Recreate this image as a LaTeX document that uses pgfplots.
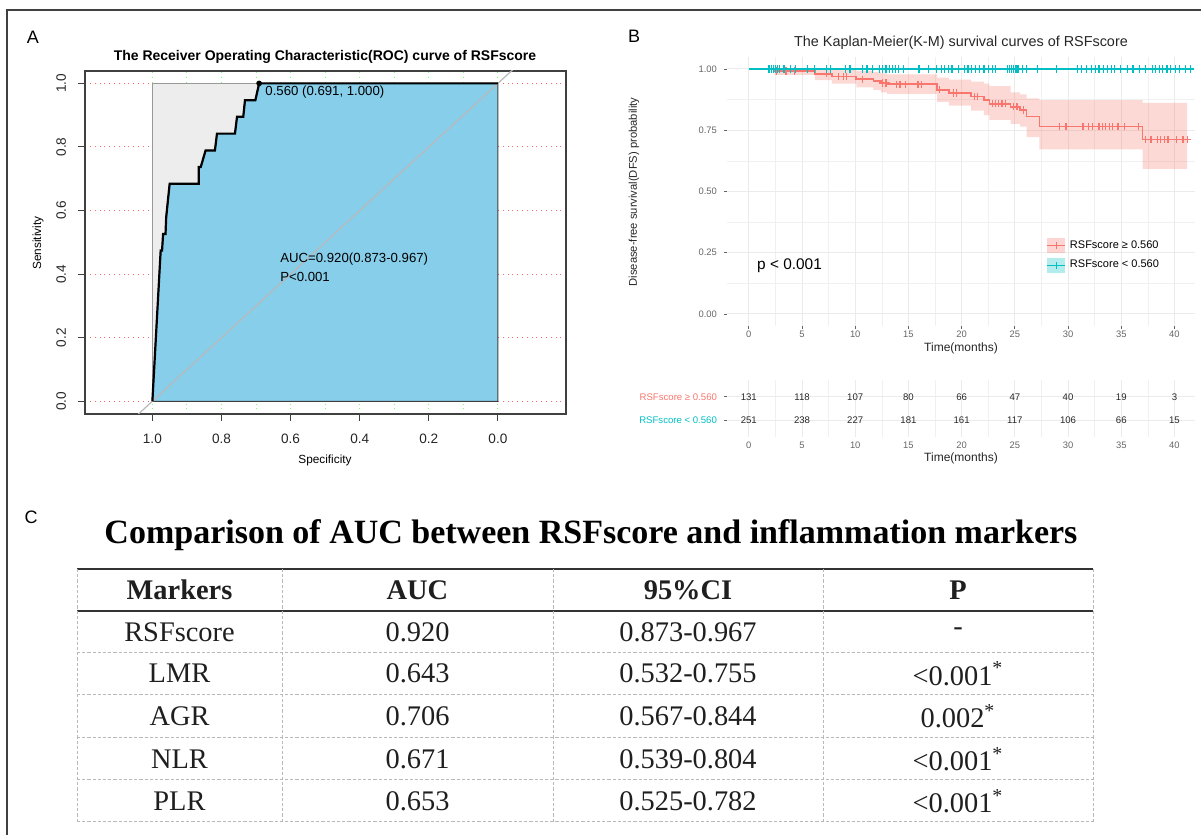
\documentclass[border=0pt]{standalone}
\usepackage{fontspec}
\setmainfont{Liberation Sans}
\newfontfamily\tnr{Liberation Serif}
\usepackage{pgfplots}
\pgfplotsset{compat=1.18, /pgf/number format/assume math mode=true}
\definecolor{kmred}{HTML}{F8766D}
\definecolor{kmcyan}{HTML}{00BFC4}
\definecolor{skyb}{HTML}{87CEEB}
\definecolor{gridg}{HTML}{EBEBEB}
\definecolor{maxg}{HTML}{EDEDED}
\newcommand{\fsz}[1]{\fontsize{#1}{#1}\selectfont}
\begin{document}
\begin{tikzpicture}
\useasboundingbox (0,0) rectangle (600.5pt,417.5pt);
%================ ROC =================
\begin{axis}[
  at={(42.5pt,210.5pt)}, anchor=south west, scale only axis,
  width=240.5pt, height=171.5pt,
  x dir=reverse, xmin=-0.197, xmax=1.195, ymin=-0.040, ymax=1.039,
  xtick={0,0.2,0.4,0.6,0.8,1}, xticklabels={0.0,0.2,0.4,0.6,0.8,1.0},
  minor xtick={0.1,0.3,0.5,0.7,0.9},
  ytick={0,0.2,0.4,0.6,0.8,1}, yticklabels={0.0,0.2,0.4,0.6,0.8,1.0},
  xmajorgrids, xminorgrids, ymajorgrids,
  x grid style={dotted, color=green!55, line width=0.5pt},
  y grid style={dotted, color=red!60, line width=0.5pt},
  xtick pos=left, ytick pos=left,
  tick align=outside, major tick length=3.5pt, minor tick length=0pt,
  tick style={black!75, line width=0.5pt},
  axis line style={black!75, line width=0.7pt},
  tick label style={font=\fsz{6.8}, black!85},
  xticklabel style={yshift=-3pt},
  yticklabel shift=2.5pt,
  yticklabel style={rotate=90, anchor=south},
]
\addplot[fill=maxg, draw=gray!80, line width=0.5pt] coordinates {(1,0) (1,1) (0,1) (0,0)} -- cycle;
\addplot[fill=skyb, draw=black!75, line width=0.5pt] coordinates {
(1.000,0.000) (0.976,0.474) (0.972,0.474) (0.969,0.526) (0.962,0.526)
(0.960,0.579) (0.955,0.632) (0.950,0.684) (0.866,0.684) (0.866,0.737)
(0.860,0.737) (0.846,0.789) (0.819,0.789) (0.813,0.842) (0.761,0.842)
(0.755,0.895) (0.737,0.895) (0.732,0.947) (0.702,0.947) (0.691,1.000)
(0.000,1.000) (0.000,0.000)} -- cycle;
\addplot[gray!55, line width=0.6pt] coordinates {(1.3,-0.3) (-0.3,1.3)};
\addplot[black, line width=1.1pt] coordinates {
(1.000,0.000) (0.976,0.474) (0.972,0.474) (0.969,0.526) (0.962,0.526)
(0.960,0.579) (0.955,0.632) (0.950,0.684) (0.866,0.684) (0.866,0.737)
(0.860,0.737) (0.846,0.789) (0.819,0.789) (0.813,0.842) (0.761,0.842)
(0.755,0.895) (0.737,0.895) (0.732,0.947) (0.702,0.947) (0.691,1.000)
(0.000,1.000)};
\addplot[only marks, mark=*, mark size=1.2pt, black] coordinates {(0.691,1.000)};
\node[anchor=west, font=\fsz{6.6}, inner sep=0pt] at (axis cs:0.674,0.974) {0.560 (0.691, 1.000)};
\node[anchor=west, font=\fsz{6.6}, inner sep=0pt] at (axis cs:0.631,0.447) {AUC=0.920(0.873-0.967)};
\node[anchor=west, font=\fsz{6.6}, inner sep=0pt] at (axis cs:0.631,0.391) {P<0.001};
\end{axis}
%================ KM =================
\begin{axis}[
  at={(363.5pt,254.375pt)}, anchor=south west, scale only axis,
  width=234pt, height=134.75pt,
  xmin=-2.05, xmax=41.93, ymin=-0.05, ymax=1.05,
  xtick={0,5,...,40}, minor xtick={2.5,7.5,12.5,17.5,22.5,27.5,32.5,37.5},
  ytick={0,0.25,0.5,0.75,1}, yticklabels={0.00,0.25,0.50,0.75,1.00},
  minor ytick={0.125,0.375,0.625,0.875},
  grid=both, major grid style={gridg, line width=0.5pt},
  minor grid style={gridg!75, line width=0.3pt},
  axis x line*=bottom, axis y line*=left, axis line style={draw=none},
  tick align=outside, major tick length=1.5pt, minor tick length=0pt,
  tick style={black!60, line width=0.4pt},
  tick label style={font=\fsz{4.7}, black!60},
  xticklabel style={yshift=2.5pt},
  legend style={at={(0.682,0.335)}, anchor=north west, draw=none, fill=none,
    font=\fsz{5.5}, inner sep=0pt, row sep=0.6pt, cells={anchor=west}},
]
\addlegendimage{legend image code/.code={
  \fill[kmred, draw=none, fill opacity=0.3] (0pt,-3.7pt) rectangle (9pt,3.7pt);
  \draw[kmred, line width=0.7pt] (0pt,0pt) -- (9pt,0pt);
  \draw[kmred, line width=0.7pt] (4.5pt,-1.8pt) -- (4.5pt,1.8pt);}}
\addlegendentry{RSFscore ≥ 0.560}
\addlegendimage{legend image code/.code={
  \fill[kmcyan, draw=none, fill opacity=0.3] (0pt,-3.7pt) rectangle (9pt,3.7pt);
  \draw[kmcyan, line width=0.7pt] (0pt,0pt) -- (9pt,0pt);
  \draw[kmcyan, line width=0.7pt] (4.5pt,-1.8pt) -- (4.5pt,1.8pt);}}
\addlegendentry{RSFscore < 0.560}
% CI band
\addplot[fill=kmred, fill opacity=0.28, draw=none, forget plot] coordinates {
(2.4,1.0) (7.8,1.0) (7.8,0.998) (10.1,0.998) (10.1,0.992) (11.7,0.992) (11.7,0.987)
(12.4,0.987) (12.4,0.982) (13.0,0.982) (13.0,0.978) (17.7,0.978) (17.7,0.965) (18.8,0.965)
(18.8,0.957) (20.9,0.957) (20.9,0.948) (22.1,0.948) (22.1,0.940) (22.6,0.940) (22.6,0.930)
(24.6,0.930) (24.6,0.905) (25.5,0.905) (25.5,0.896) (26.1,0.896) (26.1,0.880) (27.3,0.880)
(27.3,0.873) (37.0,0.873) (37.0,0.862) (41.2,0.862)
(41.2,0.592) (37.0,0.592) (37.0,0.672) (27.3,0.672) (27.3,0.722) (26.1,0.722) (26.1,0.765)
(25.5,0.765) (25.5,0.776) (24.6,0.776) (24.6,0.792) (22.6,0.792) (22.6,0.812) (22.1,0.812)
(22.1,0.830) (20.9,0.830) (20.9,0.850) (18.8,0.850) (18.8,0.866) (17.7,0.866) (17.7,0.898)
(13.0,0.898) (13.0,0.905) (12.4,0.905) (12.4,0.915) (11.7,0.915) (11.7,0.925) (10.1,0.925)
(10.1,0.940) (7.8,0.940) (7.8,0.955) (6.2,0.955) (6.2,0.976) (2.4,0.976)} -- cycle;
% red curve
\addplot[kmred, line width=0.8pt, const plot, forget plot] coordinates {
(0,1) (2.4,0.992) (6.2,0.980) (7.8,0.969) (10.1,0.958) (11.7,0.950) (12.4,0.943) (13.0,0.938)
(17.7,0.915) (18.8,0.902) (20.9,0.888) (22.1,0.874) (22.6,0.858) (24.6,0.846) (25.5,0.833)
(26.1,0.806) (27.3,0.766) (37.0,0.713) (41.2,0.713)};
\addplot[only marks, mark=+, mark size=1.8pt, kmred, mark options={line width=0.6pt}, forget plot] coordinates {
(2.6,0.992)(3.5,0.992)(4.3,0.992)(7.3,0.980)(8.4,0.969)(8.9,0.969)(9.2,0.969)(10.7,0.958)
(12.6,0.943)(12.9,0.943)(13.9,0.938)(14.2,0.938)(14.7,0.938)(15.9,0.938)(16.2,0.938)(17.9,0.915)
(19.2,0.902)(19.5,0.902)(21.2,0.888)(21.5,0.888)(22.9,0.858)(23.2,0.858)(23.5,0.858)(23.8,0.858)
(24.1,0.858)(24.9,0.846)(25.2,0.846)(25.8,0.833)(29.2,0.766)(29.8,0.766)(31.4,0.766)(31.9,0.766)
(32.3,0.766)(32.9,0.766)(33.2,0.766)(33.5,0.766)(33.9,0.766)(34.2,0.766)(34.7,0.766)(35.3,0.766)
(36.6,0.766)(37.3,0.713)(37.8,0.713)(38.4,0.713)(38.7,0.713)(39.1,0.713)(39.4,0.713)(40.2,0.713)
(40.8,0.713)(41.2,0.713)};
% cyan curve
\addplot[kmcyan, line width=0.8pt, forget plot] coordinates {(0,1) (41.6,1)};
\addplot[only marks, mark=+, mark size=1.8pt, kmcyan, mark options={line width=0.6pt}, forget plot] coordinates {
(1.9,1)(2.1,1)(2.3,1)(2.5,1)(2.7,1)(2.9,1)(3.3,1)(3.9,1)(4.4,1)(5.5,1)(6.2,1)(7.3,1)(7.7,1)
(9.1,1)(9.5,1)(10.7,1)(11.1,1)(11.6,1)(12.3,1)(12.6,1)(12.9,1)(13.2,1)(13.5,1)(13.8,1)(14.1,1)
(14.5,1)(16.0,1)(16.9,1)(17.6,1)(18.1,1)(18.4,1)(18.8,1)(19.1,1)(19.7,1)(20.3,1)(20.6,1)(20.9,1)
(21.3,1)(21.7,1)(22.1,1)(22.5,1)(22.9,1)(23.2,1)(24.3,1)(24.5,1)(24.7,1)(24.9,1)(25.1,1)(25.3,1)
(25.7,1)(26.1,1)(27.1,1)(28.9,1)(30.9,1)(31.3,1)(31.7,1)(32.2,1)(32.6,1)(32.9,1)(33.3,1)(33.7,1)
(34.1,1)(34.4,1)(34.9,1)(35.6,1)(36.1,1)(36.7,1)(37.3,1)(37.9,1)(38.2,1)(38.6,1)(38.9,1)(39.3,1)
(39.6,1)(40.1,1)(40.5,1)(41.0,1)(41.5,1)};
\node[anchor=west, font=\fsz{7.7}, inner sep=0pt] at (axis cs:0.75,0.196) {p < 0.001};
\end{axis}
%================ Risk table =================
\begin{axis}[
  at={(363.5pt,199pt)}, anchor=south west, scale only axis,
  width=234pt, height=28.5pt,
  xmin=-2.05, xmax=41.93, ymin=0.27, ymax=2.72,
  xtick={0,5,...,40}, minor xtick={2.5,7.5,12.5,17.5,22.5,27.5,32.5,37.5},
  ytick={1,2}, yticklabels={{\color{kmcyan}RSFscore < 0.560},{\color{kmred}RSFscore ≥ 0.560}},
  xmajorgrids, xminorgrids, ymajorgrids,
  major grid style={gridg, line width=0.5pt},
  minor grid style={gridg!75, line width=0.3pt},
  axis x line*=bottom, axis y line*=left, axis line style={draw=none},
  tick align=outside, major tick length=1.5pt, minor tick length=0pt,
  tick style={black!60, line width=0.4pt},
  xtick style={draw=none},
  tick label style={font=\fsz{4.7}, black!60},
  xticklabel style={yshift=2.5pt},
  yticklabel style={font=\fsz{4.8}},
]
\addplot[only marks, mark=*, mark size=0.1pt, mark options={opacity=0},
  nodes near coords, point meta=explicit symbolic, nodes near coords align={center},
  every node near coord/.append style={font=\fsz{4.8}, text=black!85, anchor=center, opacity=1}] coordinates {
(0,2)[131] (5,2)[118] (10,2)[107] (15,2)[80] (20,2)[66] (25,2)[47] (30,2)[40] (35,2)[19] (40,2)[3]};
\addplot[only marks, mark=*, mark size=0.1pt, mark options={opacity=0},
  nodes near coords, point meta=explicit symbolic, nodes near coords align={center},
  every node near coord/.append style={font=\fsz{4.8}, text=black!85, anchor=center, opacity=1}] coordinates {
(0,1)[251] (5,1)[238] (10,1)[227] (15,1)[181] (20,1)[161] (25,1)[117] (30,1)[106] (35,1)[66] (40,1)[15]};
\end{axis}
%================ texts, frame, table (pixel coordinates) =================
\begin{scope}[x=0.5pt, y=-0.5pt, yshift=417.5pt]
\draw[black!75, line width=1.1pt] (7,840) -- (7,10) -- (1205,10);
\node[font=\fsz{9}] at (33,37) {A};
\node[font=\fsz{9}] at (634,36) {B};
\node[font=\fsz{9}] at (31,517) {C};
\node[font=\bfseries\fsz{7}] at (325,57) {The Receiver Operating Characteristic(ROC) curve of RSFscore};
\node[font=\fsz{5.9}, rotate=90] at (38,243) {Sensitivity};
\node[font=\fsz{5.9}] at (325,460) {Specificity};
\node[font=\fsz{7.2}, black!85] at (961,43) {The Kaplan-Meier(K-M) survival curves of RSFscore};
\node[font=\fsz{5.6}, rotate=90, black!85] at (634,192) {Disease-free survival(DFS) probability};
\node[font=\fsz{6}, black!85] at (961,348) {Time(months)};
\node[font=\fsz{6}, black!85] at (961,458) {Time(months)};
% table C
\node[font=\tnr\bfseries\fsz{17}] at (591,535) {Comparison of AUC between RSFscore and inflammation markers};
\draw[black!80, line width=1.4pt] (77,569) -- (1093,569);
\draw[black!80, line width=1.4pt] (77,611) -- (1093,611);
\begin{scope}[gray!55, line width=0.5pt, dash pattern=on 1.6pt off 1pt]
\foreach \yy in {652.5,694.5,737.5,780,822} \draw (77,\yy) -- (1093,\yy);
\foreach \xx in {77,282,553,823,1093} \draw (\xx,569) -- (\xx,822);
\end{scope}
\begin{scope}[every node/.style={font=\tnr\fsz{14.2}, text=black!88}]
\node[font=\tnr\bfseries\fsz{14.2}] at (179.5,590) {Markers};
\node[font=\tnr\bfseries\fsz{14.2}] at (417.5,590) {AUC};
\node[font=\tnr\bfseries\fsz{14.2}] at (688,590) {95\%CI};
\node[font=\tnr\bfseries\fsz{14.2}] at (958,590) {P};
\node at (179.5,632) {RSFscore}; \node at (417.5,632) {0.920}; \node at (688,632) {0.873-0.967}; \node at (958,632) {-};
\node at (179.5,673.5) {LMR}; \node at (417.5,673.5) {0.643}; \node at (688,673.5) {0.532-0.755}; \node at (958,673.5) {<0.001\textsuperscript{*}};
\node at (179.5,716) {AGR}; \node at (417.5,716) {0.706}; \node at (688,716) {0.567-0.844}; \node at (958,716) {0.002\textsuperscript{*}};
\node at (179.5,759) {NLR}; \node at (417.5,759) {0.671}; \node at (688,759) {0.539-0.804}; \node at (958,759) {<0.001\textsuperscript{*}};
\node at (179.5,801) {PLR}; \node at (417.5,801) {0.653}; \node at (688,801) {0.525-0.782}; \node at (958,801) {<0.001\textsuperscript{*}};
\end{scope}
\end{scope}
\end{tikzpicture}
\end{document}
